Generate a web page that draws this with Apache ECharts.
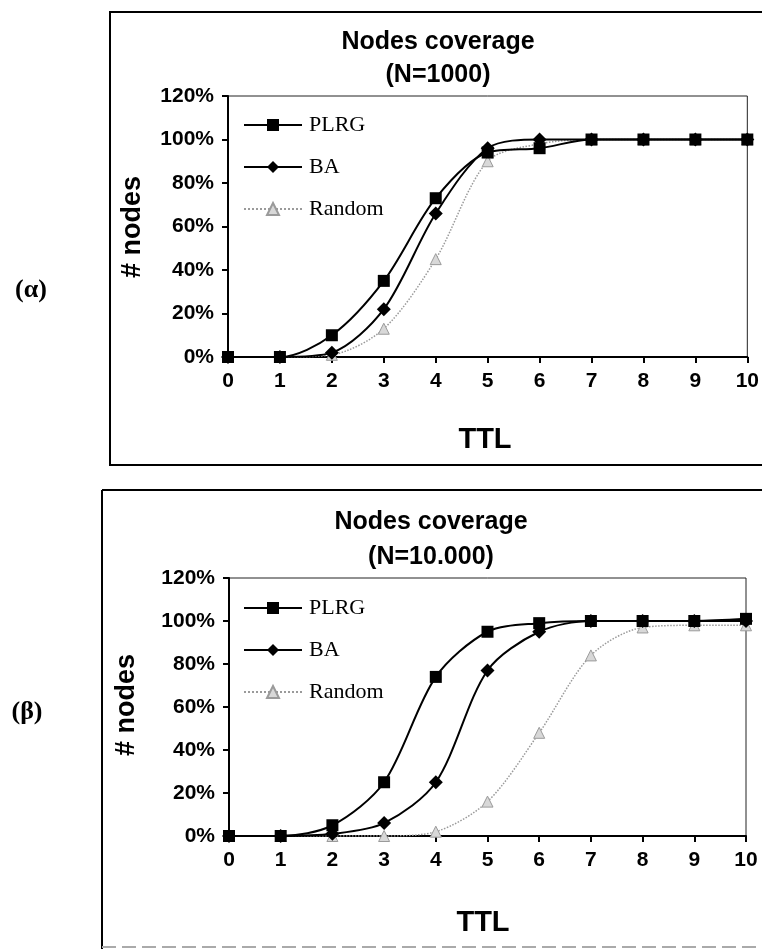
<!DOCTYPE html>
<html>
<head>
<meta charset="utf-8">
<script src="https://cdn.jsdelivr.net/npm/echarts@6/dist/echarts.min.js"></script>
<style>
  html, body { margin: 0; padding: 0; background: #fff; }
  #main { width: 762px; height: 949px; }
</style>
</head>
<body>
<div id="main"></div>
<script>
// data -----------------------------------------
var ttl = [0, 1, 2, 3, 4, 5, 6, 7, 8, 9, 10];
var yTicks = [0, 20, 40, 60, 80, 100, 120];

// N=1000
var plrg1000 = [0, 0, 10, 35, 73, 94, 96, 100, 100, 100, 100];
var ba1000 = [0, 0, 2, 22, 66, 96, 100, 100, 100, 100, 100];
var random1000 = [0, 0, 1, 13, 45, 90, 98, 100, 100, 100, 100];

// N=10.000
var plrg10000 = [0, 0, 5, 25, 74, 95, 99, 100, 100, 100, 101];
var ba10000 = [0, 0, 1, 6, 25, 77, 95, 100, 100, 100, 100];
var random10000 = [0, 0, 0, 0, 2, 16, 48, 84, 97, 98, 98];

var titles = ['(N=1000)', '(N=10.000)'];
var seriesNames = ['PLRG', 'BA', 'Random'];

function pairs(ys) {
    return ttl.map(function (x, i) { return [x, ys[i]]; });
}

var sansNarrow = "'Liberation Sans Narrow', 'Arial Narrow', sans-serif";
var sans = "'Liberation Sans', Arial, sans-serif";
var serif = "'Liberation Serif', 'Times New Roman', serif";

var myChart = echarts.init(document.getElementById('main'));

var grids = [
    {left: 228, top: 96, width: 520, height: 261},
    {left: 229, top: 578, width: 517, height: 258}
];

function xAxisFor(idx) {
    return {
        gridIndex: idx,
        type: 'value',
        min: 0,
        max: ttl[ttl.length - 1],
        interval: 1,
        splitLine: {show: false},
        axisLine: {lineStyle: {color: '#000', width: 2}},
        axisTick: {inside: false, length: 6, lineStyle: {color: '#000', width: 2}},
        axisLabel: {margin: 14, color: '#000', fontSize: 21, fontFamily: sans, fontWeight: 'bold'}
    };
}

function yAxisFor(idx) {
    return {
        gridIndex: idx,
        type: 'value',
        min: yTicks[0],
        max: yTicks[yTicks.length - 1],
        interval: yTicks[1] - yTicks[0],
        splitLine: {show: false},
        axisLine: {show: true, lineStyle: {color: '#000', width: 2}},
        axisTick: {show: true, length: 6, lineStyle: {color: '#000', width: 2}},
        axisLabel: {margin: 14, color: '#000', fontSize: 21, fontFamily: sans, fontWeight: 'bold', formatter: '{value}%'}
    };
}

function seriesFor(idx, plrg, ba, rnd) {
    return [
        {
            name: seriesNames[0], type: 'line', xAxisIndex: idx, yAxisIndex: idx,
            data: pairs(plrg), smooth: 0.3, symbol: 'rect', symbolSize: 12,
            itemStyle: {color: '#000'}, lineStyle: {color: '#000', width: 2}, z: 4
        },
        {
            name: seriesNames[1], type: 'line', xAxisIndex: idx, yAxisIndex: idx,
            data: pairs(ba), smooth: 0.3, symbol: 'diamond', symbolSize: 14,
            itemStyle: {color: '#000'}, lineStyle: {color: '#000', width: 2}, z: 3
        },
        {
            name: seriesNames[2], type: 'line', xAxisIndex: idx, yAxisIndex: idx,
            data: pairs(rnd), smooth: 0.3, symbol: 'triangle', symbolSize: 11,
            itemStyle: {color: '#d8d8d8', borderColor: '#9a9a9a', borderWidth: 1},
            lineStyle: {color: '#9a9a9a', width: 1.5, type: 'dotted'}, z: 2
        }
    ];
}

function legendFor(idx, top) {
    return {
        orient: 'vertical',
        left: 238,
        top: top,
        itemWidth: 58,
        itemHeight: 15,
        itemGap: 20,
        data: seriesNames.map(function (n) {
            return {name: n};
        }),
        selectedMode: false,
        textStyle: {fontFamily: serif, fontSize: 22, color: '#000', lineHeight: 21, padding: [0, 0, 0, 2]}
    };
}

function txt(x, y, text, font, extra) {
    var o = {
        type: 'text', x: x, y: y,
        style: {text: text, font: font, fill: '#000', textAlign: 'center', textVerticalAlign: 'middle'}
    };
    if (extra) { for (var k in extra) o[k] = extra[k]; }
    return o;
}

option = {
    animation: false,
    backgroundColor: '#fff',
    grid: grids.map(function (g) {
        return {left: g.left, top: g.top, width: g.width, height: g.height, show: true,
            borderColor: '#222', borderWidth: 1, backgroundColor: 'transparent'};
    }),
    xAxis: [xAxisFor(0), xAxisFor(1)],
    yAxis: [yAxisFor(0), yAxisFor(1)],
    legend: [legendFor(0, 109), legendFor(1, 592)],
    series: seriesFor(0, plrg1000, ba1000, random1000)
        .concat(seriesFor(1, plrg10000, ba10000, random10000)),
    graphic: [
        // frames
        {type: 'rect', shape: {x: 110, y: 12, width: 700, height: 453},
            style: {fill: 'none', stroke: '#000', lineWidth: 2}, silent: true},
        {type: 'line', shape: {x1: 102, y1: 490, x2: 762, y2: 490},
            style: {stroke: '#000', lineWidth: 2}},
        {type: 'line', shape: {x1: 102, y1: 490, x2: 102, y2: 949},
            style: {stroke: '#000', lineWidth: 2}},
        {type: 'line', shape: {x1: 102, y1: 947, x2: 762, y2: 947},
            style: {stroke: '#aaa', lineWidth: 2, lineDash: [14, 6]}},
        // titles
        txt(438, 42, 'Nodes coverage', 'bold 25px ' + sansNarrow),
        txt(438, 75, titles[0], 'bold 25px ' + sansNarrow),
        txt(431, 522, 'Nodes coverage', 'bold 25px ' + sansNarrow),
        txt(431, 557, titles[1], 'bold 25px ' + sansNarrow),
        // axis names
        txt(133, 227, '# nodes', 'bold 27px ' + sans, {rotation: Math.PI / 2}),
        txt(127, 705, '# nodes', 'bold 27px ' + sans, {rotation: Math.PI / 2}),
        txt(485, 440, 'TTL', 'bold 29px ' + sansNarrow),
        txt(483, 923, 'TTL', 'bold 29px ' + sansNarrow),
        // panel labels
        txt(31, 290, '(α)', 'bold 26px ' + serif),
        txt(27, 712, '(β)', 'bold 26px ' + serif)
    ]
};

myChart.setOption(option);
</script>
</body>
</html>
